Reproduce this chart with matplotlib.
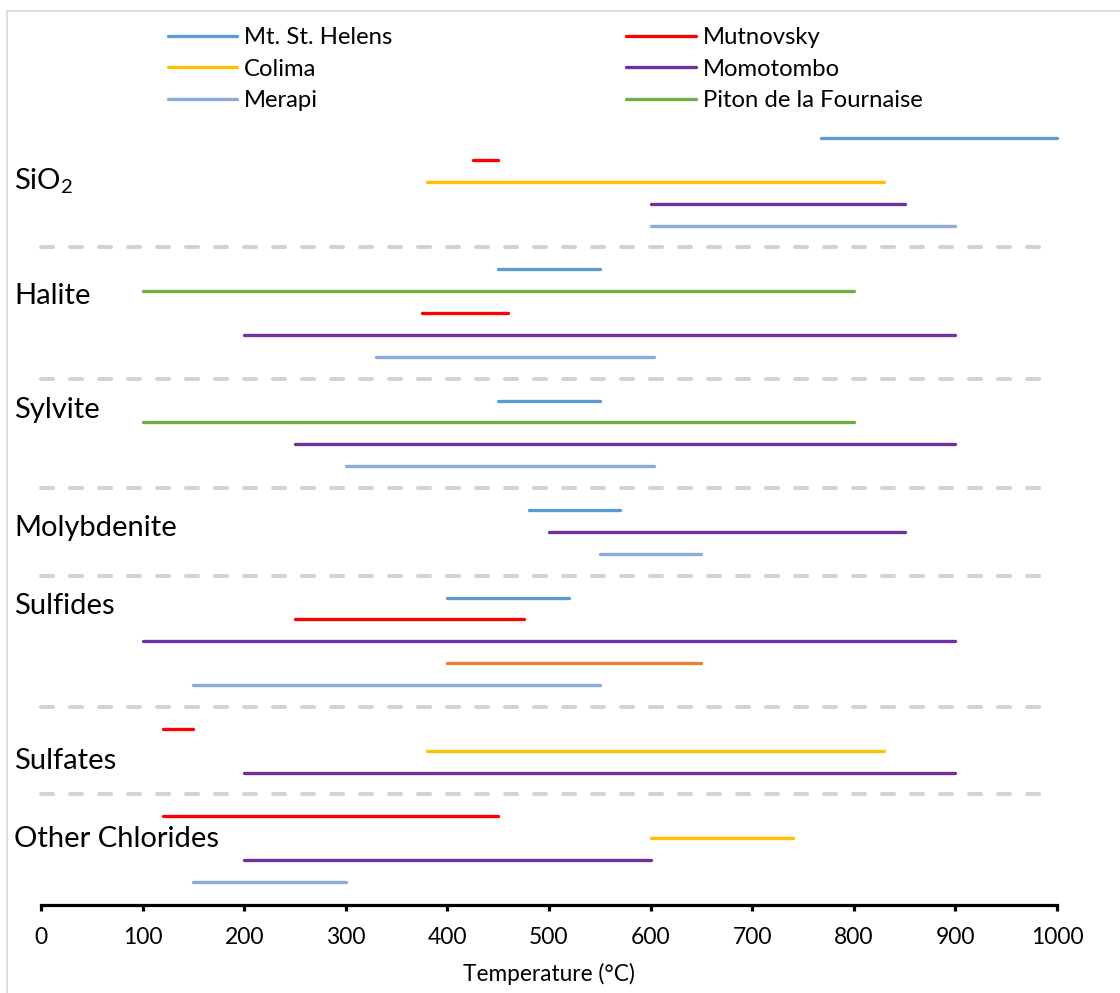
import matplotlib.pyplot as plt
import matplotlib.transforms as mtransforms
from matplotlib.lines import Line2D
from matplotlib.patches import Rectangle

plt.rcParams['font.family'] = ['Lato', 'DejaVu Sans']
plt.rcParams['mathtext.fontset'] = 'custom'
plt.rcParams['mathtext.rm'] = 'Lato'

# mineral groups and where each label sits (in row units)
groups = ['SiO$_2$', 'Halite', 'Sylvite', 'Molybdenite', 'Sulfides', 'Sulfates', 'Other Chlorides']
group_label_rows = [1.95, 7.2, 12.45, 17.8, 21.4, 28.45, 32.05]
separator_rows = [5, 11, 16, 20, 26, 30]

# one entry per temperature range
row_pos = [0, 1, 2, 3, 4,
           6, 7, 8, 9, 10,
           12, 13, 14, 15,
           17, 18, 19,
           21, 22, 23, 24, 25,
           27, 28, 29,
           31, 32, 33, 34]
row_volcano = ['Mt. St. Helens', 'Mutnovsky', 'Colima', 'Momotombo', 'Merapi',
               'Mt. St. Helens', 'Piton de la Fournaise', 'Mutnovsky', 'Momotombo', 'Merapi',
               'Mt. St. Helens', 'Piton de la Fournaise', 'Momotombo', 'Merapi',
               'Mt. St. Helens', 'Momotombo', 'Merapi',
               'Mt. St. Helens', 'Mutnovsky', 'Momotombo', 'Other', 'Merapi',
               'Mutnovsky', 'Colima', 'Momotombo',
               'Mutnovsky', 'Colima', 'Momotombo', 'Merapi']
row_low = [768, 425, 380, 600, 600,
           450, 100, 375, 200, 330,
           450, 100, 250, 300,
           480, 500, 550,
           400, 250, 100, 400, 150,
           120, 380, 200,
           120, 600, 200, 150]
row_high = [1000, 450, 830, 850, 900,
            550, 800, 460, 900, 603,
            550, 800, 900, 603,
            570, 850, 650,
            520, 475, 900, 650, 550,
            150, 830, 900,
            450, 740, 600, 300]

volcanoes = ['Mt. St. Helens', 'Colima', 'Merapi', 'Mutnovsky', 'Momotombo', 'Piton de la Fournaise']
colors = {'Mt. St. Helens': '#5B9BD5', 'Colima': '#FFC000', 'Merapi': '#8FAADC',
          'Mutnovsky': '#FF0000', 'Momotombo': '#7030A0',
          'Piton de la Fournaise': '#70AD47', 'Other': '#ED7D31'}

W, H = 1120, 993
fig = plt.figure(figsize=(W / 100, H / 100), dpi=100)
ax = fig.add_axes([41 / W, 88 / H, 1016 / W, 790 / H])

lw = 2.4
for y, v, lo, hi in zip(row_pos, row_volcano, row_low, row_high):
    ax.plot([lo, hi], [y, y], color=colors[v], lw=lw, solid_capstyle='round', clip_on=False)

for y in separator_rows:
    ax.plot([0, 992], [y, y], color='#D3D3D3', lw=2.9, dashes=(3.0, 4.2),
            dash_capstyle='round', clip_on=False)

ax.set_xlim(0, 1000)
ax.set_ylim(35.05, -1.05)

# group labels at left edge of the figure
trans = mtransforms.blended_transform_factory(fig.transFigure, ax.transData)
for name, y in zip(groups, group_label_rows):
    ax.text(14 / W, y, name, transform=trans, fontsize=21, ha='left', va='center')

for s in ['left', 'right', 'top']:
    ax.spines[s].set_visible(False)
ax.spines['bottom'].set_linewidth(2.3)
ax.spines['bottom'].set_color('black')
ax.set_yticks([])
ax.set_xticks(range(0, 1001, 100))
ax.tick_params(axis='x', direction='out', length=4.5, width=2.3, labelsize=16.5, pad=11)
ax.set_xlabel('Temperature (°C)', fontsize=16.3, labelpad=11)

# legend: two columns
handles = [Line2D([], [], color=colors[v], lw=lw, solid_capstyle='round') for v in volcanoes]
fig.legend(handles, volcanoes, ncol=2, loc='upper left', bbox_to_anchor=(146 / W, 1 - 6 / H),
           frameon=False, fontsize=17.2, handlelength=2.9, handletextpad=0.3,
           labelspacing=0.43, columnspacing=9.8)

# chart-area border
fig.patches.append(Rectangle((7 / W, -0.05), 1.1, 1 - 11 / H + 0.05, transform=fig.transFigure,
                             fill=False, edgecolor='#D9D9D9', lw=1.3))

fig.savefig('out.png', dpi=100)
